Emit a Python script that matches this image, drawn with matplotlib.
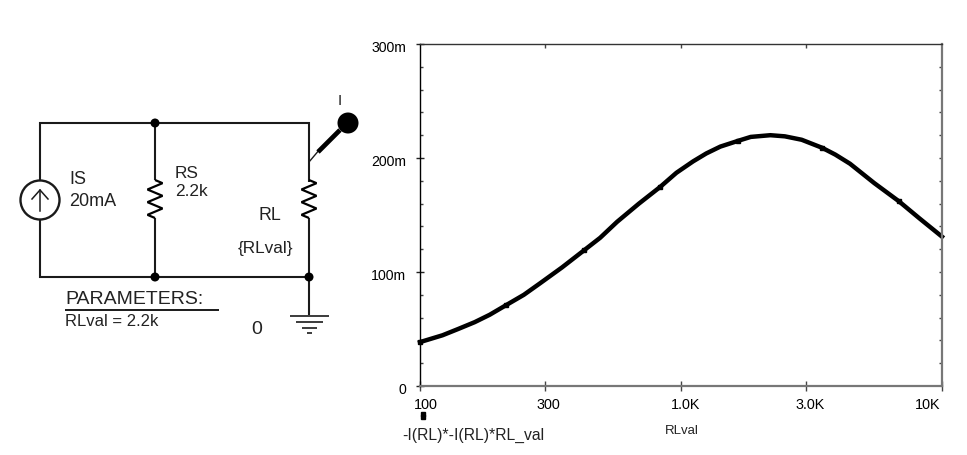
import matplotlib
matplotlib.use("Agg")
import matplotlib.pyplot as plt
from matplotlib.patches import Circle
from matplotlib.transforms import ScaledTranslation

plt.rcParams["font.family"] = ["Liberation Sans", "DejaVu Sans"]

W, H = 967, 455

# values
rl_values = [100, 122, 140, 162, 185, 214, 250, 288, 350, 425, 490, 569, 690, 832, 960,
             1112, 1250, 1415, 1652, 1850, 2200, 2500, 2900, 3470, 3900, 4440, 5500,
             6840, 8200, 10000]
power = [0.0385, 0.0445, 0.050, 0.056, 0.0625, 0.071, 0.080, 0.090, 0.104, 0.119, 0.130,
         0.144, 0.160, 0.1746, 0.187, 0.197, 0.204, 0.210, 0.215, 0.2185, 0.220, 0.219,
         0.216, 0.209, 0.203, 0.195, 0.178, 0.162, 0.147, 0.131]
marker_r = [100, 214, 425, 832, 1652, 3470, 6840]
marker_p = [0.0385, 0.071, 0.119, 0.1746, 0.215, 0.209, 0.162]

x_ticks = [100, 300, 1000, 3000, 10000]
x_labels = ["100", "300", "1.0K", "3.0K", "10K"]
y_ticks = [0, 0.1, 0.2, 0.3]
y_labels = ["0", "100m", "200m", "300m"]
y_minor = [0.02, 0.04, 0.06, 0.08, 0.12, 0.14, 0.16, 0.18, 0.22, 0.24, 0.26, 0.28]

fig = plt.figure(figsize=(W / 100, H / 100), dpi=100)

# chart
ax = fig.add_axes([420 / W, 1 - 386 / H, 522 / W, 342 / H])
ax.set_xscale("log")
ax.set_xlim(100, 10000)
ax.set_ylim(0, 0.3)
ax.plot(rl_values, power, color="black", lw=3.2, solid_joinstyle="round", clip_on=False)
ax.plot(marker_r, marker_p, ls="none", marker="s", ms=3.4, color="black", clip_on=False)

ax.set_xticks(x_ticks)
ax.set_xticklabels(x_labels)
ax.set_xticks([], minor=True)
ax.set_yticks(y_ticks)
ax.set_yticklabels(y_labels)
ax.set_yticks(y_minor, minor=True)
ax.tick_params(axis="x", which="major", direction="inout", length=7, width=1, color="#444444",
               pad=5, labelsize=10.4)
ax.tick_params(axis="y", which="major", direction="inout", length=6, width=1, color="#222222",
               pad=7, labelsize=10.2)
ax.tick_params(axis="y", which="minor", direction="in", length=2.5, width=1, color="#444444")
ax.spines["left"].set_color("black")
ax.spines["left"].set_linewidth(1.0)
ax.spines["top"].set_color("#333333")
ax.spines["top"].set_linewidth(1.0)
ax.spines["bottom"].set_color("#777777")
ax.spines["bottom"].set_linewidth(1.6)
ax.spines["right"].set_color("#777777")
ax.spines["right"].set_linewidth(1.6)

# top and right edges only have inward ticks
top = ax.secondary_xaxis("top")
top.set_xticks(x_ticks[1:-1])
top.set_xticks([], minor=True)
top.tick_params(axis="x", which="major", direction="in", length=3, width=1, color="#444444", labeltop=False)
top.spines["top"].set_visible(False)
right = ax.secondary_yaxis("right")
right.set_yticks(y_ticks[1:-1])
right.set_yticks(y_minor, minor=True)
right.tick_params(axis="y", which="both", direction="in", length=2.5, width=1, color="#444444", labelright=False)
right.spines["right"].set_visible(False)

# labels sit a little off their ticks in the original
x_shift = [6, 4, 5, 5, -14]
for lab, dx in zip(ax.get_xticklabels(), x_shift):
    lab.set_transform(lab.get_transform() + ScaledTranslation(dx / 100, 0, fig.dpi_scale_trans))
for lab in ax.get_yticklabels():
    lab.set_transform(lab.get_transform() + ScaledTranslation(0, -3 / 100, fig.dpi_scale_trans))

# overlay in pixel coords for the schematic and loose labels
ov = fig.add_axes([0, 0, 1, 1])
ov.set_xlim(0, W)
ov.set_ylim(H, 0)
ov.axis("off")
ov.patch.set_alpha(0)


def wire(xs, ys, lw=1.5, color="#1a1a1a"):
    ov.plot(xs, ys, color=color, lw=lw, solid_capstyle="butt", solid_joinstyle="miter")


def resistor(x, y0, y1):
    # zigzag resistor, wires run in at both ends
    n = 6
    xs = [x]
    ys = [y0]
    for i in range(n):
        xs.append(x + (7.5 if i % 2 == 0 else -7.5))
        ys.append(y0 + (i + 0.5) * (y1 - y0) / n)
    xs.append(x)
    ys.append(y1)
    wire(xs, ys, lw=1.6, color="black")


# wires
wire([40, 40, 309, 309], [180, 123, 123, 182])
wire([40, 40, 309], [220, 277, 277])
wire([155, 155], [123, 180])
wire([155, 155], [218, 277])
wire([309, 309], [218, 315])
resistor(155, 180, 218)
resistor(309, 180, 218)

# current source
ov.add_patch(Circle((40, 200), 19.5, fc="white", ec="#1a1a1a", lw=1.7, zorder=3))
ov.plot([40, 40], [190, 211], color="#1a1a1a", lw=1.1, zorder=4)
ov.plot([32, 40, 48], [199, 190, 199], color="#1a1a1a", lw=1.1, zorder=4)

# nodes
for nx_, ny_ in [(155, 123), (155, 277), (309, 277)]:
    ov.add_patch(Circle((nx_, ny_), 4.5, fc="black", ec="none", zorder=4))

# ground
wire([290, 329], [316, 316], lw=1.2)
wire([296, 323], [322, 322], lw=1.2)
wire([302, 317], [328, 328], lw=1.2)
wire([307, 312], [333, 333], lw=1.2)

# probe
wire([309, 320], [162, 149], lw=1.0)
wire([318, 340], [152, 130], lw=3.4, color="black")
ov.add_patch(Circle((348, 123), 10.5, fc="black", ec="none", zorder=4))

# parameters block
wire([65, 219], [310, 310], lw=1.4)

txt = dict(ha="left", va="center", color="#222222")
ov.text(338, 101, "I", fontsize=11, **txt)
ov.text(69, 179, "IS", fontsize=13, **txt)
ov.text(69, 201, "20mA", fontsize=13, **txt)
ov.text(175, 173, "RS", fontsize=12.4, **txt)
ov.text(175, 192, "2.2k", fontsize=12.4, **txt)
ov.text(259, 215, "RL", fontsize=12.8, **txt)
ov.text(238, 248, "{RLval}", fontsize=12.4, **txt)
ov.text(65, 300, "PARAMETERS:", fontsize=14.0, **txt)
ov.text(65, 321, "RLval = 2.2k", fontsize=12.0, **txt)
ov.text(251, 329, "0", fontsize=14, **txt)

# trace label under the axis
ov.plot([423, 423], [414, 417], marker="s", ms=3.2, color="black", ls="none")
ov.text(402, 435, "-I(RL)*-I(RL)*RL_val", fontsize=11.3, **txt)
ov.text(665, 431, "RLval", fontsize=9.5, **txt)

fig.savefig("out.png", dpi=100, facecolor="white")
